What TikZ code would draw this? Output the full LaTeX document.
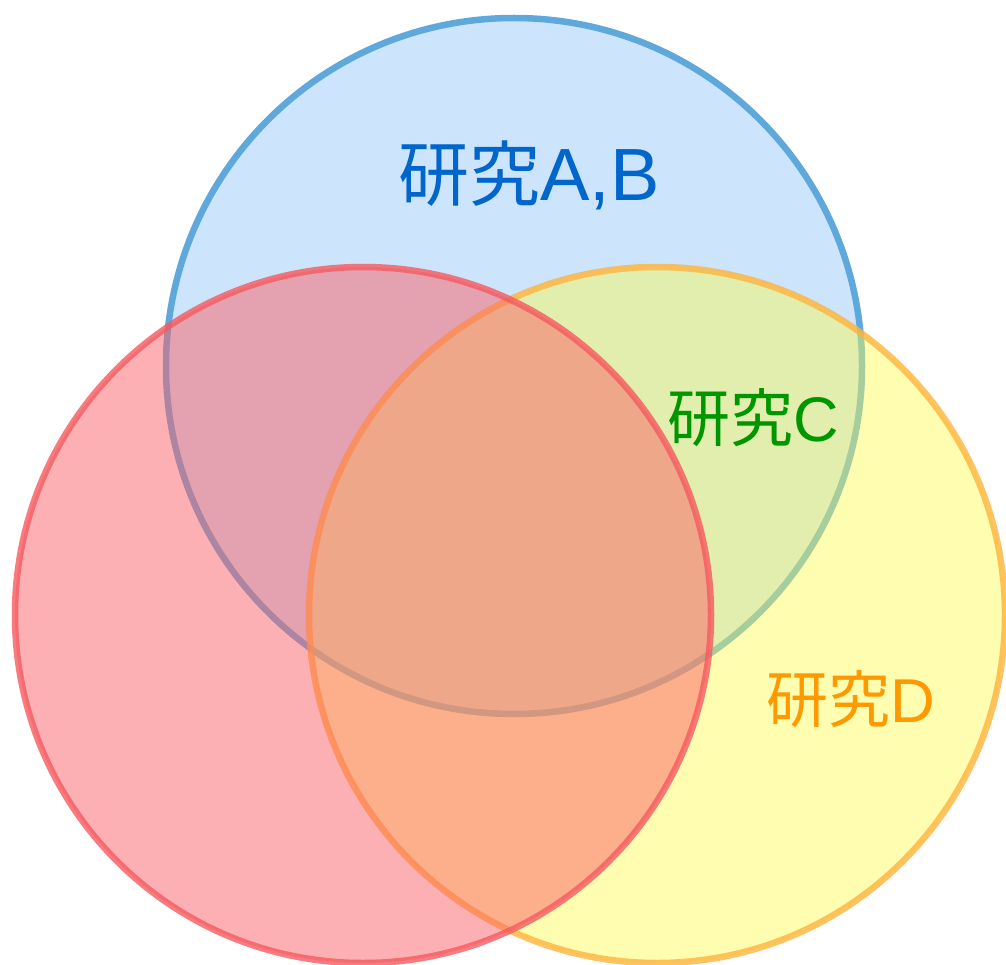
\documentclass[tikz,border=0pt]{standalone}
\usepackage{fontspec}
\newfontfamily\cjk{Noto Sans CJK JP}
\newfontfamily\lat{Liberation Sans}
\definecolor{bluefill}{RGB}{204,228,252}
\definecolor{bluestroke}{RGB}{95,168,220}
\definecolor{redfill}{RGB}{252,98,104}
\definecolor{redstroke}{RGB}{245,90,95}
\definecolor{yellowfill}{RGB}{253,251,80}
\definecolor{yellowstroke}{RGB}{255,180,60}
\definecolor{txtblue}{RGB}{0,102,204}
\definecolor{txtgreen}{RGB}{0,150,0}
\definecolor{txtorange}{RGB}{255,153,0}
\tikzset{
  setcircle/.style={circle, minimum size=696pt, inner sep=0pt, line width=6.5pt},
  lbl/.style={inner sep=0pt, anchor=center}
}
\begin{document}
\begin{tikzpicture}[x=1pt,y=-1pt]
\useasboundingbox (0,0) rectangle (1006,965);
\node[setcircle, fill=bluefill, draw=bluestroke] (blue) at (514,366) {};
\node[setcircle, fill=yellowfill, fill opacity=0.45, draw=yellowstroke, draw opacity=0.8] (yellow) at (657,615) {};
\node[setcircle, fill=redfill, fill opacity=0.5, draw=redstroke, draw opacity=0.8] (red) at (363,615) {};
\node[lbl, text=txtblue] (ab) at (529,175) {\fontsize{71}{71}\selectfont\cjk 研究\fontsize{74}{74}\selectfont\lat A,B};
\node[lbl, text=txtgreen] (c) at (753,418) {\fontsize{63}{63}\selectfont\cjk 研究\lat C};
\node[lbl, text=txtorange] (d) at (851,699) {\fontsize{62}{62}\selectfont\cjk 研究\lat D};
\end{tikzpicture}
\end{document}
